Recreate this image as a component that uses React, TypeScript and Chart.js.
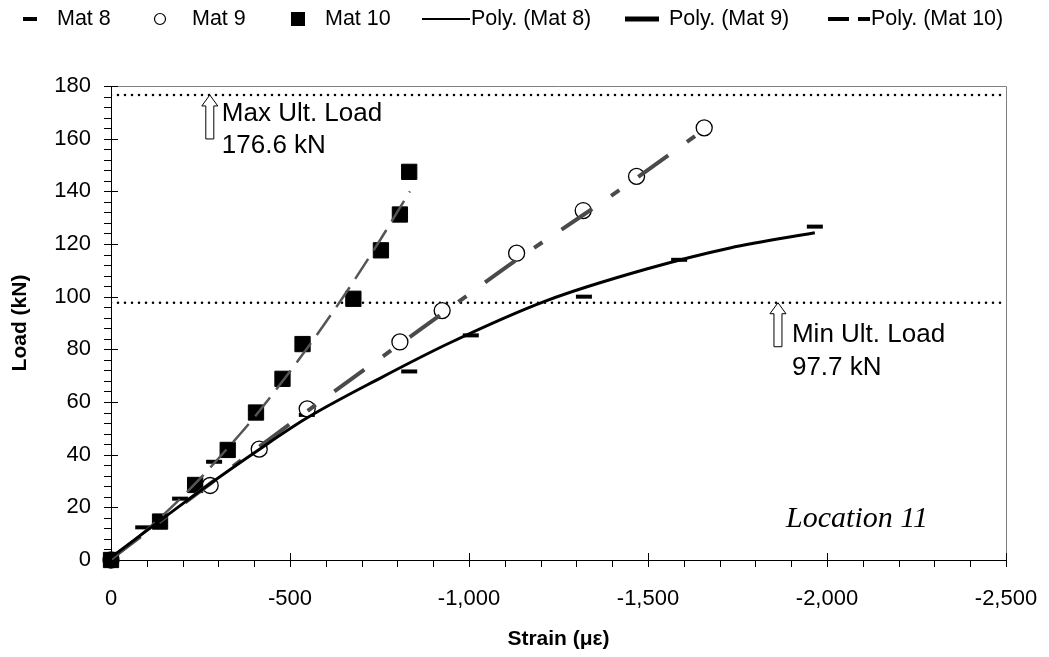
import React, { useEffect, useRef } from "react";
import { Chart, registerables } from "chart.js";

Chart.register(...registerables);

// Gauge readings at location 11 (strain in microstrain, load in kN)
const mat8Strain = [0, -90, -193, -288, -547, -833, -1005, -1321, -1587, -1966];
const mat8Load = [0, 12.4, 23.3, 37.3, 55.1, 71.6, 85.3, 100, 114, 126.6];

const mat9Strain = [0, -277, -414, -548, -807, -925, -1133, -1319, -1468, -1657];
const mat9Load = [0, 28.3, 42.1, 57.4, 82.8, 94.7, 116.5, 132.7, 145.7, 164.1];

const mat10Strain = [0, -137, -235, -326, -405, -479, -535, -677, -754, -807, -833];
const mat10Load = [0, 14.6, 28.5, 41.8, 56, 68.8, 82, 99.2, 117.6, 131.2, 147.4];

// Polynomial trend curves
const mat8TrendStrain = [0, -277, -414, -548, -751, -947, -1217, -1496, -1729, -1966];
const mat8TrendLoad = [1, 29, 42, 54, 69, 82.5, 98.5, 110.5, 118.5, 124.3];

const mat9TrendStrain = [0, -277, -414, -548, -807, -925, -1133, -1319, -1468, -1657];
const mat9TrendLoad = [0.5, 29, 43, 56.5, 82, 93.5, 114, 131, 145, 163.5];

const mat10TrendStrain = [0, -137, -235, -326, -405, -535, -621, -677, -754, -835];
const mat10TrendLoad = [0, 16, 29, 42.5, 55, 78, 94.4, 105.7, 122, 140];

// Ultimate load limits
const maxUltLoad = 176.6;
const minUltLoad = 97.7;
const maxArrowStrain = -276;
const minArrowStrain = -1863;

// Axis ranges and tick spacing
const strainMin = -2500;
const strainMax = 0;
const strainMajor = 500;
const strainMinor = 100;
const loadMin = 0;
const loadMax = 180;
const loadMajor = 20;
const loadMinor = 4;

const SANS = "'Liberation Sans', Arial, Helvetica, sans-serif";
const SERIF = "'Liberation Serif', 'Times New Roman', serif";

const pts = (xs: number[], ys: number[]) => xs.map((x, i) => ({ x, y: ys[i] }));

const frameAndTicks = {
  id: "frameAndTicks",
  afterDraw(chart: any) {
    const { ctx, chartArea: a, scales } = chart;
    const x = scales.x;
    const y = scales.y;
    ctx.save();
    // grey frame on top and right
    ctx.strokeStyle = "#808080";
    ctx.lineWidth = 1;
    ctx.beginPath();
    ctx.moveTo(a.left, Math.round(a.top) + 0.5);
    ctx.lineTo(Math.round(a.right) + 0.5, Math.round(a.top) + 0.5);
    ctx.lineTo(Math.round(a.right) + 0.5, a.bottom);
    ctx.stroke();
    // tick marks
    ctx.strokeStyle = "#000";
    for (let v = loadMin; v <= loadMax + 1e-9; v += loadMinor) {
      const py = Math.round(y.getPixelForValue(v)) + 0.5;
      const major = Math.abs(v % loadMajor) < 1e-9;
      ctx.beginPath();
      ctx.moveTo(a.left - 7, py);
      ctx.lineTo(a.left + (major ? 7 : 0), py);
      ctx.stroke();
    }
    for (let v = strainMax; v >= strainMin - 1e-9; v -= strainMinor) {
      const px = Math.round(x.getPixelForValue(v)) + 0.5;
      const major = Math.abs(v % strainMajor) < 1e-9;
      ctx.beginPath();
      ctx.moveTo(px, a.bottom + 7);
      ctx.lineTo(px, a.bottom - (major ? 7 : 0));
      ctx.stroke();
    }
    ctx.restore();
  },
};

const drawUpArrow = (ctx: CanvasRenderingContext2D, cx: number, tipY: number) => {
  ctx.beginPath();
  ctx.moveTo(cx, tipY);
  ctx.lineTo(cx + 8, tipY + 11);
  ctx.lineTo(cx + 4, tipY + 11);
  ctx.lineTo(cx + 4, tipY + 44);
  ctx.lineTo(cx - 4, tipY + 44);
  ctx.lineTo(cx - 4, tipY + 11);
  ctx.lineTo(cx - 8, tipY + 11);
  ctx.closePath();
  ctx.fillStyle = "#fff";
  ctx.fill();
  ctx.strokeStyle = "#000";
  ctx.lineWidth = 1;
  ctx.stroke();
};

const annotations = {
  id: "annotations",
  afterDatasetsDraw(chart: any) {
    const { ctx, scales } = chart;
    const x = scales.x;
    const y = scales.y;
    ctx.save();
    const mx = x.getPixelForValue(maxArrowStrain);
    const my = y.getPixelForValue(maxUltLoad);
    drawUpArrow(ctx, mx, my);
    ctx.fillStyle = "#000";
    ctx.font = `26px ${SANS}`;
    ctx.textAlign = "left";
    ctx.textBaseline = "middle";
    ctx.fillText("Max Ult. Load", mx + 12, my + 19);
    ctx.fillText(`${maxUltLoad} kN`, mx + 12, my + 51);

    const nx = x.getPixelForValue(minArrowStrain);
    const ny = y.getPixelForValue(minUltLoad);
    drawUpArrow(ctx, nx, ny);
    ctx.fillStyle = "#000";
    ctx.fillText("Min Ult. Load", nx + 14, ny + 32);
    ctx.fillText(`${minUltLoad} kN`, nx + 14, ny + 65);

    ctx.font = `italic 30px ${SERIF}`;
    ctx.textAlign = "right";
    ctx.textBaseline = "alphabetic";
    ctx.fillText("Location 11", 928, 527);
    ctx.restore();
  },
};

const legendPlugin = {
  id: "topLegend",
  afterDraw(chart: any) {
    const { ctx } = chart;
    const cy = 19;
    ctx.save();
    ctx.fillStyle = "#000";
    ctx.strokeStyle = "#000";
    // Mat 8 marker
    ctx.fillRect(23, cy - 2, 14, 4);
    // Mat 9 marker
    ctx.beginPath();
    ctx.arc(160, cy, 5.5, 0, Math.PI * 2);
    ctx.fillStyle = "#fff";
    ctx.fill();
    ctx.lineWidth = 1.2;
    ctx.stroke();
    ctx.fillStyle = "#000";
    // Mat 10 marker
    ctx.fillRect(291, cy - 7, 14, 14);
    // Poly lines
    ctx.lineWidth = 2;
    ctx.beginPath();
    ctx.moveTo(422, cy);
    ctx.lineTo(470, cy);
    ctx.stroke();
    ctx.lineWidth = 5;
    ctx.beginPath();
    ctx.moveTo(625, cy);
    ctx.lineTo(659, cy);
    ctx.stroke();
    ctx.lineWidth = 4;
    ctx.beginPath();
    ctx.moveTo(828, cy);
    ctx.lineTo(849, cy);
    ctx.moveTo(858, cy);
    ctx.lineTo(870, cy);
    ctx.stroke();

    ctx.font = `21.5px ${SANS}`;
    ctx.textAlign = "left";
    ctx.textBaseline = "middle";
    const labels: [string, number][] = [
      ["Mat 8", 57],
      ["Mat 9", 192],
      ["Mat 10", 325],
      ["Poly. (Mat 8)", 471],
      ["Poly. (Mat 9)", 669],
      ["Poly. (Mat 10)", 871],
    ];
    labels.forEach(([t, lx]) => ctx.fillText(t, lx, cy));
    ctx.restore();
  },
};

export default function App() {
  const ref = useRef<HTMLCanvasElement | null>(null);

  useEffect(() => {
    if (!ref.current) return;
    const refLine = (load: number) => ({
      data: [
        { x: strainMax, y: load },
        { x: strainMin, y: load },
      ],
      showLine: true,
      pointRadius: 0,
      borderColor: "#000",
      borderWidth: 2.6,
      borderDash: [0, 7],
      borderCapStyle: "round",
      order: 4,
    });

    const chart = new Chart(ref.current, {
      type: "scatter",
      data: {
        datasets: [
          {
            label: "Mat 8",
            data: pts(mat8Strain, mat8Load),
            pointStyle: "line",
            pointRadius: 8,
            borderWidth: 4,
            borderColor: "#000",
            backgroundColor: "#000",
            clip: false,
            order: 3,
          },
          {
            label: "Mat 9",
            data: pts(mat9Strain, mat9Load),
            pointStyle: "circle",
            pointRadius: 8,
            borderWidth: 1.3,
            borderColor: "#000",
            backgroundColor: "#fff",
            clip: false,
            order: 2.5,
          },
          {
            label: "Mat 10",
            data: pts(mat10Strain, mat10Load),
            pointStyle: "rect",
            pointRadius: 10.8,
            borderWidth: 1,
            borderColor: "#000",
            backgroundColor: "#000",
            clip: false,
            order: 2,
          },
          {
            label: "Poly. (Mat 8)",
            data: pts(mat8TrendStrain, mat8TrendLoad),
            showLine: true,
            pointRadius: 0,
            borderColor: "#000",
            borderWidth: 3,
            cubicInterpolationMode: "monotone",
            order: 1,
          },
          {
            label: "Poly. (Mat 9)",
            data: pts(mat9TrendStrain, mat9TrendLoad),
            showLine: true,
            pointRadius: 0,
            borderColor: "#4a4a4a",
            borderWidth: 4,
            borderDash: [37, 23, 10, 23],
            cubicInterpolationMode: "monotone",
            order: 1,
          },
          {
            label: "Poly. (Mat 10)",
            data: pts(mat10TrendStrain, mat10TrendLoad),
            showLine: true,
            pointRadius: 0,
            borderColor: "#555",
            borderWidth: 2.5,
            borderDash: [24, 10],
            cubicInterpolationMode: "monotone",
            order: 1,
          },
          refLine(maxUltLoad) as any,
          refLine(minUltLoad) as any,
        ],
      },
      options: {
        animation: false,
        responsive: false,
        devicePixelRatio: 1,
        events: [],
        layout: { padding: { top: 86, right: 43, left: 0, bottom: 0 } },
        plugins: { legend: { display: false }, tooltip: { enabled: false } },
        scales: {
          x: {
            type: "linear",
            reverse: true,
            min: strainMin,
            max: strainMax,
            afterFit: (s: any) => {
              s.height = 97;
              s.paddingLeft = 0;
              s.paddingRight = 0;
            },
            grid: { display: false, drawTicks: false },
            border: { display: true, color: "#000", width: 1 },
            ticks: {
              stepSize: strainMajor,
              color: "#000",
              padding: 26,
              maxRotation: 0,
              font: { family: SANS, size: 22 },
            },
            title: {
              display: true,
              text: "Strain (με)",
              color: "#000",
              font: { family: SANS, size: 21, weight: "bold" },
              padding: { top: 0, bottom: 5 },
            },
          },
          y: {
            type: "linear",
            min: loadMin,
            max: loadMax,
            afterFit: (s: any) => {
              s.width = 111;
              s.paddingTop = 0;
              s.paddingBottom = 0;
            },
            grid: { display: false, drawTicks: false },
            border: { display: true, color: "#000", width: 1 },
            ticks: {
              stepSize: loadMajor,
              color: "#000",
              padding: 20,
              font: { family: SANS, size: 22 },
            },
            title: {
              display: true,
              text: "Load (kN)",
              color: "#000",
              font: { family: SANS, size: 21, weight: "bold" },
              padding: { top: 8, bottom: 0 },
            },
          },
        },
      },
      plugins: [frameAndTicks, annotations, legendPlugin],
    } as any);
    return () => chart.destroy();
  }, []);

  return (
    <div style={{ position: "absolute", left: 0, top: 0, width: 1049, height: 657, background: "#fff" }}>
      <canvas ref={ref} width={1049} height={657} />
    </div>
  );
}
